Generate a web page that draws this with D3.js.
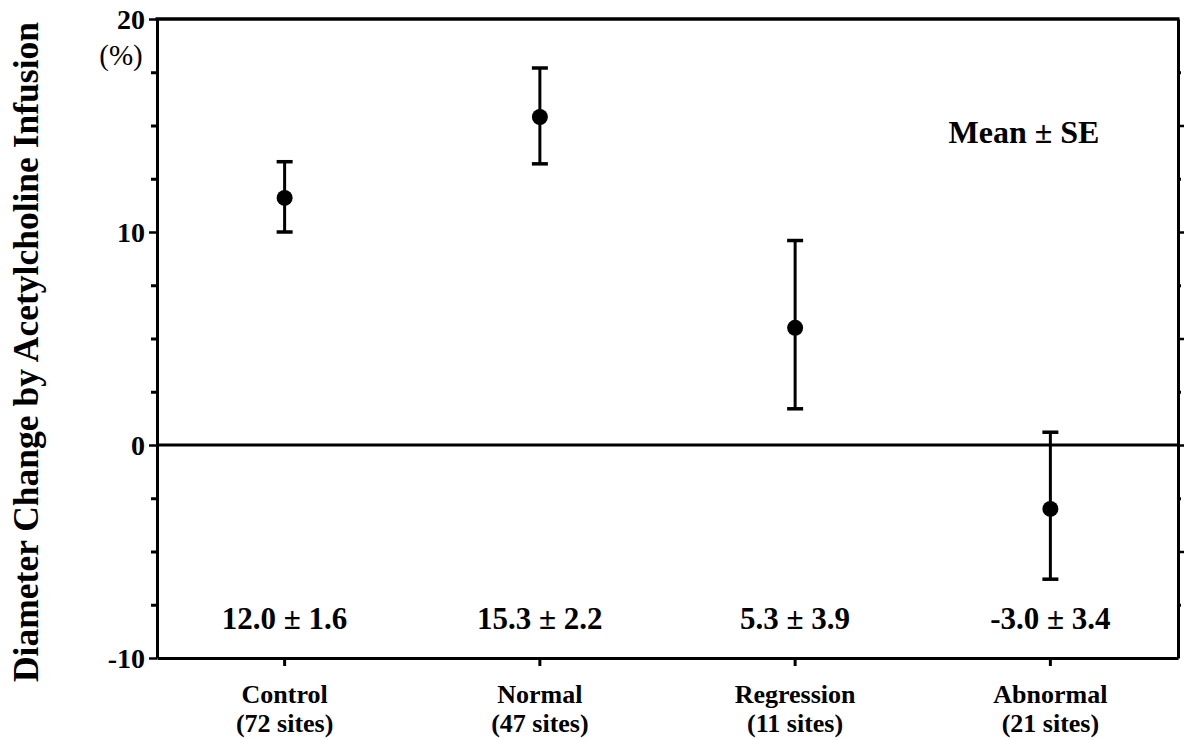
<!DOCTYPE html>
<html>
<head>
<meta charset="UTF-8" />
<title>Diameter change by acetylcholine infusion</title>
<script src="https://d3js.org/d3.v7.min.js"></script>
<style>
    body { margin: 0; background: #fff; }
    svg text { font-family: "Liberation Serif", "Times New Roman", serif; font-weight: bold; fill: #000; }
</style>
</head>
<body>
<svg id="chart" width="1188" height="740"></svg>
<script>
// groups and values
var groups = ["Control", "Normal", "Regression", "Abnormal"];
var sites = ["(72 sites)", "(47 sites)", "(11 sites)", "(21 sites)"];
var means = [11.6, 15.4, 5.5, -3.0];
var upper = [13.3, 17.7, 9.6, 0.6];
var lower = [10.0, 13.2, 1.7, -6.3];
var summary = ["12.0 \u00b1 1.6", "15.3 \u00b1 2.2", "5.3 \u00b1 3.9", "-3.0 \u00b1 3.4"];
var majorTicks = [-10, 0, 10, 20];
var minorTicks = [-7.5, -5, -2.5, 2.5, 5, 7.5, 12.5, 15, 17.5];
var rightTicks = [-5, 0, 5, 10, 15];
var rightDots = [-7.5, -2.5, 2.5, 7.5, 12.5, 17.5];

var svg = d3.select("#chart");
var plotL = 157, plotR = 1178, plotT = 19, plotB = 658;

var x = d3.scaleBand().domain(groups).range([plotL, plotR]).padding(0);
var y = d3.scaleLinear().domain([-10, 20]).range([plotB, plotT]);

// left axis
var gl = svg.append("g").attr("transform", "translate(" + plotL + ",0)")
    .call(d3.axisLeft(y).tickValues(majorTicks).tickSize(8).tickSizeOuter(0).tickPadding(4)
        .tickFormat(function (d) { return String(d); }));
gl.selectAll(".tick line").attr("stroke-width", 2.5);
gl.selectAll(".tick text").attr("dy", "0.35em")
    .style("font-size", "28px").style("font-family", "Liberation Serif").style("font-weight", "bold");
gl.select(".domain").attr("stroke-width", 3);
var glm = svg.append("g").attr("transform", "translate(" + plotL + ",0)")
    .call(d3.axisLeft(y).tickValues(minorTicks).tickSize(6).tickFormat(""));
glm.select(".domain").remove();
glm.selectAll(".tick line").attr("stroke-width", 3);

// right axis
var gr = svg.append("g").attr("transform", "translate(" + plotR + ",0)")
    .call(d3.axisRight(y).tickValues(rightTicks).tickSize(6).tickSizeOuter(0).tickFormat(""));
gr.select(".domain").attr("stroke-width", 3);
gr.selectAll(".tick line").attr("stroke-width", 2.5);
var grm = svg.append("g").attr("transform", "translate(" + plotR + ",0)")
    .call(d3.axisRight(y).tickValues(rightDots).tickSize(3).tickFormat(""));
grm.select(".domain").remove();
grm.selectAll(".tick line").attr("stroke-width", 3);

// top line
svg.append("line").attr("x1", plotL - 1.5).attr("x2", plotR + 1.5).attr("y1", y(20)).attr("y2", y(20))
    .attr("stroke", "#000").attr("stroke-width", 3.5);

// bottom axis
var gb = svg.append("g").attr("transform", "translate(0," + plotB + ")")
    .call(d3.axisBottom(x).tickSize(8).tickSizeOuter(0).tickFormat(""));
gb.select(".domain").attr("stroke-width", 3);
gb.selectAll(".tick line").attr("stroke-width", 3);

// category labels
var cx = function (i) { return x(groups[i]) + x.bandwidth() / 2; };
svg.selectAll(".cat").data(groups).enter().append("text")
    .attr("x", function (d, i) { return cx(i); })
    .attr("y", 703).attr("text-anchor", "middle").style("font-size", "26px")
    .text(function (d) { return d; });
svg.selectAll(".sites").data(sites).enter().append("text")
    .attr("x", function (d, i) { return cx(i); })
    .attr("y", 732).attr("text-anchor", "middle").style("font-size", "26px")
    .text(function (d) { return d; });

// zero line
svg.append("line").attr("x1", plotL).attr("x2", plotR).attr("y1", y(0)).attr("y2", y(0))
    .attr("stroke", "#000").attr("stroke-width", 3);

// error bars
var eb = svg.append("g");
groups.forEach(function (g, i) {
    eb.append("line").attr("x1", cx(i)).attr("x2", cx(i))
        .attr("y1", y(upper[i])).attr("y2", y(lower[i]))
        .attr("stroke", "#000").attr("stroke-width", 3);
    [upper[i], lower[i]].forEach(function (v) {
        eb.append("line").attr("x1", cx(i) - 8).attr("x2", cx(i) + 8)
            .attr("y1", y(v)).attr("y2", y(v))
            .attr("stroke", "#000").attr("stroke-width", 3.5);
    });
});
svg.selectAll(".dot").data(means).enter().append("circle")
    .attr("cx", function (d, i) { return cx(i); })
    .attr("cy", function (d) { return y(d); })
    .attr("r", 8).attr("fill", "#000");

// summary values
svg.selectAll(".summary").data(summary).enter().append("text")
    .attr("x", function (d, i) { return cx(i); })
    .attr("y", 629).attr("text-anchor", "middle").style("font-size", "31px")
    .text(function (d) { return d; });

// legend note
svg.append("text").attr("x", 1024).attr("y", 143).attr("text-anchor", "middle")
    .style("font-size", "32px").text("Mean \u00b1 SE");

// unit
svg.append("text").attr("x", 121).attr("y", 65).attr("text-anchor", "middle")
    .style("font-size", "29px").style("font-weight", "normal")
    .text("(%)");

// y title
svg.append("text").attr("transform", "translate(38,352) rotate(-90)")
    .attr("text-anchor", "middle").style("font-size", "35.5px")
    .text("Diameter Change by Acetylcholine Infusion");
</script>
</body>
</html>
